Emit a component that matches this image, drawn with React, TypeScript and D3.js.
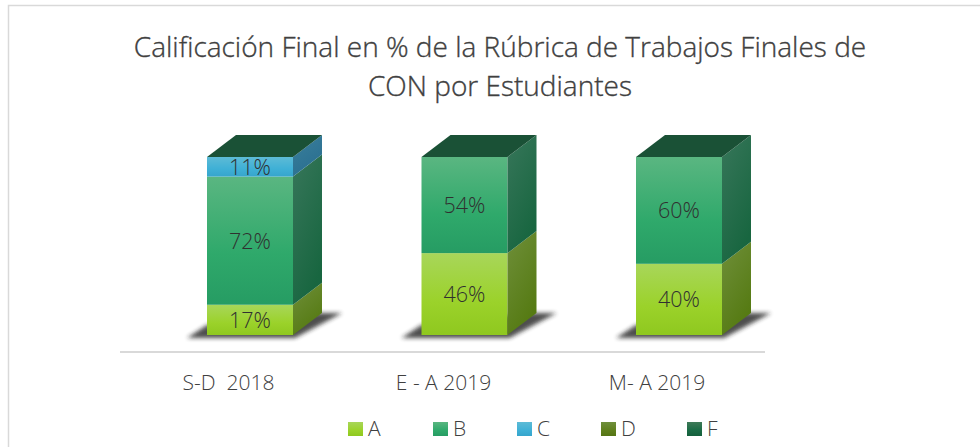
import React from "react";
import * as d3 from "d3";

const categories = ["S-D  2018", "E - A 2019", "M- A 2019"];
const seriesNames = ["A", "B", "C", "D", "F"];
const valuesA = [17, 46, 40];
const valuesB = [72, 54, 60];
const valuesC = [11, 0, 0];
const valuesD = [0, 0, 0];
const valuesF = [0, 0, 0];
const seriesValues = [valuesA, valuesB, valuesC, valuesD, valuesF];
const frontColors: [string, string, string][] = [
  ["#a8d65a", "#9bd22a", "#8fc81f"],
  ["#5ab681", "#2fa96b", "#269c63"],
  ["#5dbbd6", "#3fb0d6", "#36a5cc"],
  ["#6f8f3c", "#5f7f1c", "#557515"],
  ["#3f7a58", "#1a6b45", "#155f3c"],
];
const sideColors: [string, string][] = [
  ["#6f8f3a", "#557a12"],
  ["#37765a", "#186640"],
  ["#3a7f9c", "#2a6f90"],
  ["#6f8f3a", "#557a12"],
  ["#37765a", "#186640"],
];
const topColor = "#1a5136";
const title = ["Calificación Final en % de la Rúbrica de Trabajos Finales de", "CON por Estudiantes"];
const labelOffsets = [-21.5, -21, -22];
const FONT = "'Open Sans', sans-serif";

export default function App() {
  const W = 980, H = 447;
  const x = d3.scalePoint<string>().domain(categories).range([250, 679]);
  const y = d3.scaleLinear().domain([0, 100]).range([335, 157]);
  const bw = 86, dx = 29, dy = 22;
  const legendX = [348, 433, 517, 601, 687];
  return (
    <svg width={W} height={H} viewBox={`0 0 ${W} ${H}`} style={{ position: "fixed", left: 0, top: 0, background: "#fff" }} fontFamily={FONT}>
      <defs>
        {frontColors.map((c, i) => (
          <linearGradient key={i} id={`front${i}`} x1="0" y1="0" x2="0" y2="1">
            <stop offset="0" stopColor={c[0]} />
            <stop offset="0.6" stopColor={c[1]} />
            <stop offset="1" stopColor={c[2]} />
          </linearGradient>
        ))}
        {sideColors.map((c, i) => (
          <linearGradient key={i} id={`side${i}`} x1="0" y1="0" x2="0.5" y2="1">
            <stop offset="0" stopColor={c[0]} />
            <stop offset="1" stopColor={c[1]} />
          </linearGradient>
        ))}
        <filter id="blur" x="-20%" y="-50%" width="140%" height="200%">
          <feGaussianBlur stdDeviation="2.2" />
        </filter>
      </defs>
      <path d={`M8.5,${H} V5.5 H${W}`} fill="none" stroke="#d9d9d9" strokeWidth={1.5} />
      {title.map((t, i) => (
        <text key={i} x={500} y={57 + i * 38.5} textAnchor="middle" fontSize={28} fontWeight={300} fill="#404040" stroke="#404040" strokeWidth={0.35}>{t}</text>
      ))}
      <line x1={120} x2={765} y1={352} y2={352} stroke="#d9d9d9" strokeWidth={2} />
      {categories.map((cat, ci) => {
        const x0 = (x(cat) as number) - bw / 2;
        const front: React.ReactNode[] = [];
        let acc = 0;
        const segs = seriesNames.map((_, si) => {
          const v = seriesValues[si][ci];
          const s = { si, v, start: acc, end: acc + v };
          acc += v;
          return s;
        }).filter((s) => s.v > 0);
        segs.forEach((s) => {
          const yTop = y(s.end), yBot = y(s.start);
          front.push(
            <g key={s.si}>
              <rect x={x0} y={yTop} width={bw} height={yBot - yTop} fill={`url(#front${s.si})`} />
              <polygon points={`${x0 + bw},${yTop} ${x0 + bw + dx},${yTop - dy} ${x0 + bw + dx},${yBot - dy} ${x0 + bw},${yBot}`} fill={`url(#side${s.si})`} />
              <text x={x0 + bw / 2} y={(yTop + yBot) / 2 + 8} textAnchor="middle" fontSize={21.5} fontWeight={300} fill="#303030">{`${s.v}%`}</text>
            </g>
          );
        });
        const b = y(0), t = y(100);
        return (
          <g key={cat}>
            <polygon points={`${x0 - 20},${b + 3} ${x0 + bw + 2},${b + 3} ${x0 + bw + dx + 20},${b - dy} ${x0 + bw + dx - 5},${b - dy} ${x0},${b - 10}`} fill="#222" opacity={0.8} filter="url(#blur)" />
            {front}
            <polygon points={`${x0},${t} ${x0 + dx},${t - dy} ${x0 + bw + dx},${t - dy} ${x0 + bw},${t}`} fill={topColor} />
            <text x={x0 + bw / 2 + labelOffsets[ci]} y={390} textAnchor="middle" fontSize={21} fontWeight={300} fill="#404040" style={{ whiteSpace: "pre" }}>{cat}</text>
          </g>
        );
      })}
      {seriesNames.map((n, i) => (
        <g key={n}>
          <rect x={legendX[i]} y={422} width={15} height={14} fill={`url(#front${i})`} />
          <text x={legendX[i] + 20} y={436} fontSize={21} fontWeight={300} fill="#404040">{n}</text>
        </g>
      ))}
    </svg>
  );
}
